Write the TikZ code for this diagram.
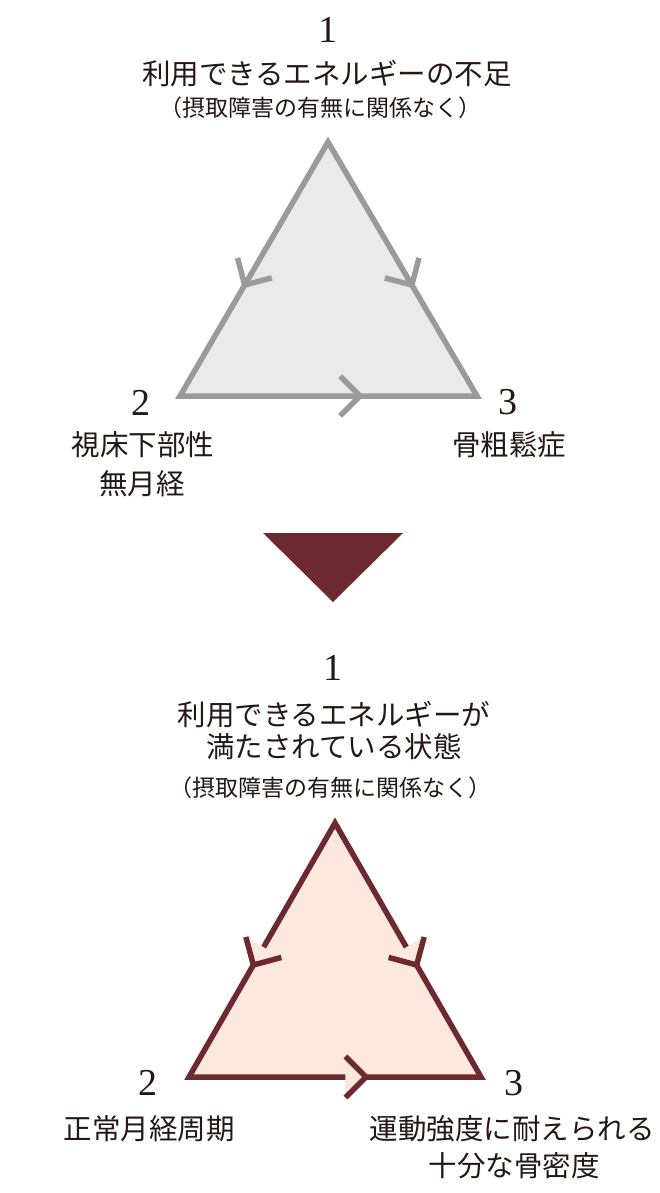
\documentclass[tikz,border=0pt]{standalone}
\usepackage{fontspec}
\setmainfont{Liberation Serif}
\newfontfamily\jpfont{Noto Sans CJK JP}
\usetikzlibrary{calc}
\definecolor{ink}{HTML}{231815}
\definecolor{grayline}{HTML}{9A9A9A}
\definecolor{grayfill}{HTML}{EAEAEA}
\definecolor{wine}{HTML}{6C2A30}
\definecolor{pinkfill}{HTML}{FCE8DC}
\tikzset{
  num/.style={font=\fontsize{38}{38}\selectfont, text=ink, inner sep=0pt, anchor=center},
  jpmain/.style={font=\jpfont\fontsize{28.5}{28.5}\selectfont, text=ink, inner sep=0pt, anchor=center},
  jpsub/.style={font=\jpfont\fontsize{23}{23}\selectfont, text=ink, inner sep=0pt, anchor=center},
  trigray/.style={draw=grayline, fill=grayfill, line width=5.5pt, line join=miter},
  barbgray/.style={draw=grayline, line width=5.5pt, line join=miter, line cap=butt},
  triwine/.style={draw=wine, fill=pinkfill, line width=5.5pt, line join=miter},
  barbwine/.style={draw=wine, line width=5.5pt, line join=miter, line cap=butt},
}
\begin{document}
\begin{tikzpicture}[x=1pt,y=-1pt]
\useasboundingbox[fill=white] (0,0) rectangle (660,1193);

% ---------- upper part ----------
\node[num] (n1a) at (328,30) {1};
\node[jpmain] (t1a) at (327,74) {利用できるエネルギーの不足};
\node[jpsub] (s1a) at (320,108) {（摂取障害の有無に関係なく）};

\coordinate (A1) at (328,142);
\coordinate (B1) at (180,396);
\coordinate (C1) at (477,396);
\draw[trigray] (A1) -- (B1) -- (C1) -- cycle;

\coordinate (p1) at ($(A1)!0.563!(B1)$);
\coordinate (p2) at ($(A1)!0.563!(C1)$);
\coordinate (p3) at ($(B1)!0.606!(C1)$);
\draw[barbgray] ($(p1)!28pt!135:(B1)$) -- (p1) -- ($(p1)!28pt!-135:(B1)$);
\draw[barbgray] ($(p2)!28pt!135:(C1)$) -- (p2) -- ($(p2)!28pt!-135:(C1)$);
\draw[barbgray] ($(p3)!28pt!135:(C1)$) -- (p3) -- ($(p3)!28pt!-135:(C1)$);

\node[num] (n2a) at (141,403) {2};
\node[jpmain] (l2a) at (143,445) {視床下部性};
\node[jpmain] (l2b) at (142,484) {無月経};
\node[num] (n3a) at (508,402) {3};
\node[jpmain] (l3a) at (509,445) {骨粗鬆症};

% ---------- down arrow ----------
\fill[wine] (263,533) coordinate (d1) -- (403,533) coordinate (d2) -- (333,602) coordinate (d3) -- cycle;

% ---------- lower part ----------
\node[num] (n1b) at (333,668) {1};
\node[jpmain] (t1b) at (334,715) {利用できるエネルギーが};
\node[jpmain] (t1c) at (334,747) {満たされている状態};
\node[jpsub] (s1b) at (330,788) {（摂取障害の有無に関係なく）};

\coordinate (A2) at (335,823);
\coordinate (B2) at (189,1077);
\coordinate (C2) at (481,1077);
\draw[triwine] (A2) -- (B2) -- (C2) -- cycle;

\coordinate (q1) at ($(A2)!0.559!(B2)$);
\coordinate (q2) at ($(A2)!0.559!(C2)$);
\coordinate (q3) at ($(B2)!0.606!(C2)$);
\foreach \p/\q in {q1/B2, q2/C2, q3/C2}{
  \fill[pinkfill] ($(\p)!29pt!135:(\q)$) -- (\p) -- ($(\p)!29pt!-135:(\q)$) -- cycle;
  \draw[barbwine] ($(\p)!29pt!135:(\q)$) -- (\p) -- ($(\p)!29pt!-135:(\q)$);
}

\node[num] (n2b) at (148,1083) {2};
\node[jpmain] (l4a) at (149,1129) {正常月経周期};
\node[num] (n3b) at (514,1083) {3};
\node[jpmain] (l5a) at (512,1129) {運動強度に耐えられる};
\node[jpmain] (l5b) at (514,1166) {十分な骨密度};
\end{tikzpicture}
\end{document}
